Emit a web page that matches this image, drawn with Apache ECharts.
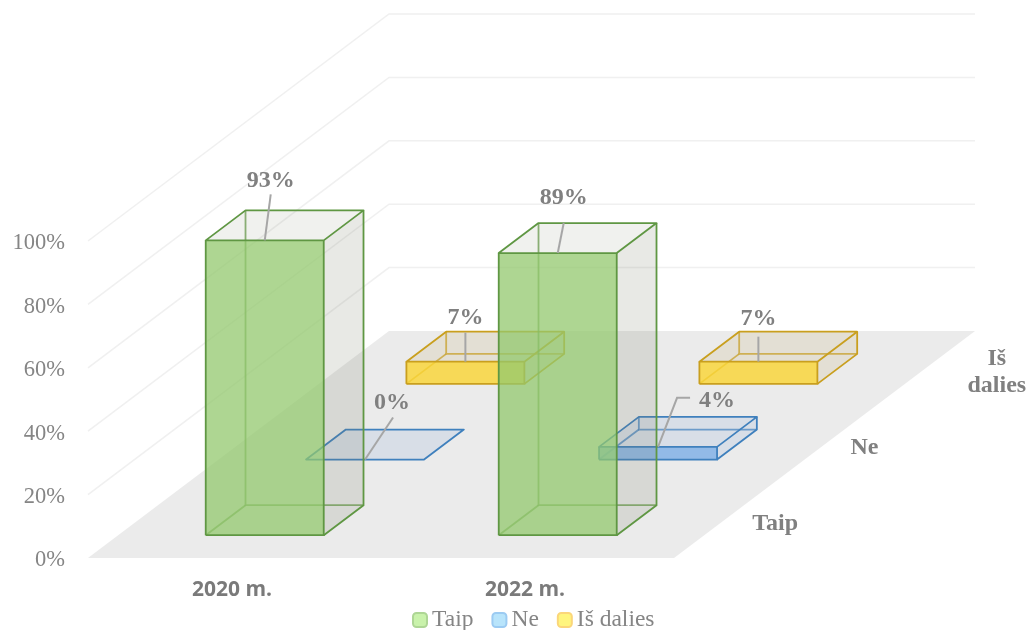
<!DOCTYPE html>
<html><head><meta charset="utf-8">
<style>html,body{margin:0;padding:0;background:#fff}#c{width:1029px;height:630px}</style>
<script src="https://cdn.jsdelivr.net/npm/echarts@6/dist/echarts.min.js"></script>
</head><body><div id="c"></div>
<script>
const categories = ['2020 m.', '2022 m.'];
const seriesNames = ['Taip', 'Ne', 'Iš dalies'];
const taip = [93, 89];
const ne = [0, 4];
const isDalies = [7, 7];
const valueTicks = [0, 20, 40, 60, 80, 100];

const SERIF = '"Liberation Serif"';
const DEPTH_X = 301, DEPTH_Y = 227, BAR_W = 118, BAR_D = 30, SLOT_GAP = 22.8;
const SLOPE = DEPTH_X / DEPTH_Y;
const looks = [
  {front:'rgba(147,200,110,.75)', side:'rgba(120,125,100,.17)', top:'rgba(120,125,100,.11)', edge:'#5f9743', back:'rgba(95,151,67,.72)', lFill:'#c9f2ab', lBorder:'#aed695'},
  {front:'rgba(116,170,230,.75)', side:'rgba(90,140,210,.13)', top:'rgba(90,140,210,.13)', edge:'#3f80bd', back:'rgba(63,128,189,.72)', lFill:'#b8e4fb', lBorder:'#9ccbf2'},
  {front:'rgba(250,212,50,.8)', side:'rgba(180,150,60,.13)', top:'rgba(180,150,60,.13)', edge:'#c99f1e', back:'rgba(201,159,30,.72)', lFill:'#fff57e', lBorder:'#fbd67a'}
];
// leader line offsets from the top-front edge centre, and label offsets
const callouts = [
  [{l:[[0,0],[6,-46]], t:[6,-60]}, {l:[[0,0],[6,-30]], t:[6,-55]}],
  [{l:[[0,0],[28,-42]], t:[27,-57]}, {l:[[0,0],[19,-49],[32,-49]], t:[59,-46]}],
  [{l:[[0,0],[0,-29]], t:[0,-44]}, {l:[[0,0],[0,-25]], t:[0,-43]}]
];
const sideLabelOffsets = [[51, 4], [40, 3], [72, 3]];

function poly(pts, fill, stroke, lw) {
  return {type:'polygon', shape:{points:pts}, style:{fill:fill, stroke:stroke||null, lineWidth:lw||0, lineJoin:'round'}};
}
function line(pts, stroke, lw) {
  return {type:'polyline', shape:{points:pts}, style:{fill:null, stroke:stroke, lineWidth:lw}};
}
function text(str, x, y, font, fill) {
  return {type:'text', style:{text:str, x:x, y:y, font:font, fill:fill, align:'center', verticalAlign:'middle', lineHeight:27}};
}

function renderWalls(params, api) {
  const r = params.coordSys;
  const y0 = r.y + r.height, x0 = r.x, x1 = r.x + r.width;
  const kids = [poly([[x0,y0],[x1,y0],[x1+DEPTH_X,y0-DEPTH_Y],[x0+DEPTH_X,y0-DEPTH_Y]], '#ebebeb')];
  valueTicks.forEach(function (v) {
    const y = api.coord([0, v])[1];
    if (v > 0) kids.push(line([[x0,y],[x0+DEPTH_X,y-DEPTH_Y],[x1+DEPTH_X,y-DEPTH_Y]], '#f0f0f0', 1.5));
  });
  seriesNames.forEach(function (n, i) {
    const d = (i + .5) * DEPTH_Y / seriesNames.length;
    const o = sideLabelOffsets[i];
    kids.push(text(n === 'Iš dalies' ? 'Iš\ndalies' : n, x1 + d * SLOPE + o[0], y0 - d + o[1], 'bold 24px ' + SERIF, '#808080'));
  });
  return {type:'group', children:kids};
}

function makeBar(sIdx) {
  return function (params, api) {
    const cat = api.value(0), val = api.value(1);
    const base = api.coord([cat, 0]), topP = api.coord([cat, val]);
    const d = sIdx * DEPTH_Y / seriesNames.length + SLOT_GAP;
    const sx = d * SLOPE;
    const xl = base[0] - BAR_W / 2 + sx, xr = xl + BAR_W;
    const yb = base[1] - d, yt = topP[1] - d;
    const bx = BAR_D * SLOPE, by = BAR_D;
    const s = looks[sIdx];
    const kids = [];
    if (val > 0) {
      // hidden rear edges
      kids.push(line([[xl+bx,yt-by],[xl+bx,yb-by],[xr+bx,yb-by]], s.back, 1.8));
      kids.push(line([[xl,yb],[xl+bx,yb-by]], s.back, 1.8));
      kids.push(poly([[xl,yt],[xr,yt],[xr,yb],[xl,yb]], s.front));
      kids.push(poly([[xr,yt],[xr+bx,yt-by],[xr+bx,yb-by],[xr,yb]], s.side));
      kids.push(line([[xr+bx,yt-by],[xr+bx,yb-by],[xr,yb]], s.edge, 1.8));
      kids.push(line([[xl,yb],[xr,yb],[xr,yt]], s.edge, 1.8));
      kids.push(line([[xl,yb],[xl,yt]], s.edge, 1.8));
    }
    kids.push(poly([[xl,yt],[xr,yt],[xr+bx,yt-by],[xl+bx,yt-by]], s.top, s.edge, 1.8));
    const ax = xl + BAR_W / 2, c = callouts[sIdx][cat];
    kids.push(line(c.l.map(function (p) { return [ax + p[0], yt + p[1]]; }), '#a6a6a6', 2));
    kids.push(text(val + '%', ax + c.t[0], yt + c.t[1], 'bold 24px ' + SERIF, '#808080'));
    return {type:'group', children:kids};
  };
}

function barData(values) { return values.map(function (v, i) { return [i, v]; }); }
const seriesValues = [taip, ne, isDalies];

const chart = echarts.init(document.getElementById('c'), null, {renderer:'canvas'});
chart.setOption({
  animation:false,
  backgroundColor:'#fff',
  grid:{left:88, width:586, top:241, height:317},
  xAxis:{type:'category', data:categories, axisLine:{show:false}, axisTick:{show:false}, splitLine:{show:false},
    axisLabel:{margin:22, color:'#7a7a7a', fontFamily:'"Open Sans"', fontWeight:'bold', fontSize:21, padding:[0,5,0,0]}},
  yAxis:{type:'value', min:0, max:100, interval:20, axisLine:{show:false}, axisTick:{show:false}, splitLine:{show:false},
    axisLabel:{margin:23, color:'#858585', fontFamily:SERIF, fontSize:22.5, verticalAlign:'top', lineHeight:5, formatter:'{value}%'}},
  legend:{left:407, top:603, itemWidth:14, itemHeight:14, itemGap:18, icon:'roundRect',
    textStyle:{fontFamily:SERIF, fontSize:23.5, color:'#858585'},
    data:seriesNames.map(function (n, i) { return {name:n, itemStyle:{color:looks[i].lFill, borderColor:looks[i].lBorder, borderWidth:2}}; })},
  series:[
    {type:'custom', name:'walls', z:1, silent:true, clip:false, renderItem:renderWalls, data:[[0,0]], encode:{x:0,y:1}}
  ].concat(seriesNames.map(function (n, i) {
    return {type:'custom', name:n, z:5 - i, clip:false, renderItem:makeBar(i), data:barData(seriesValues[i]), encode:{x:0,y:1},
      itemStyle:{color:looks[i].lFill}};
  }))
});
</script></body></html>
